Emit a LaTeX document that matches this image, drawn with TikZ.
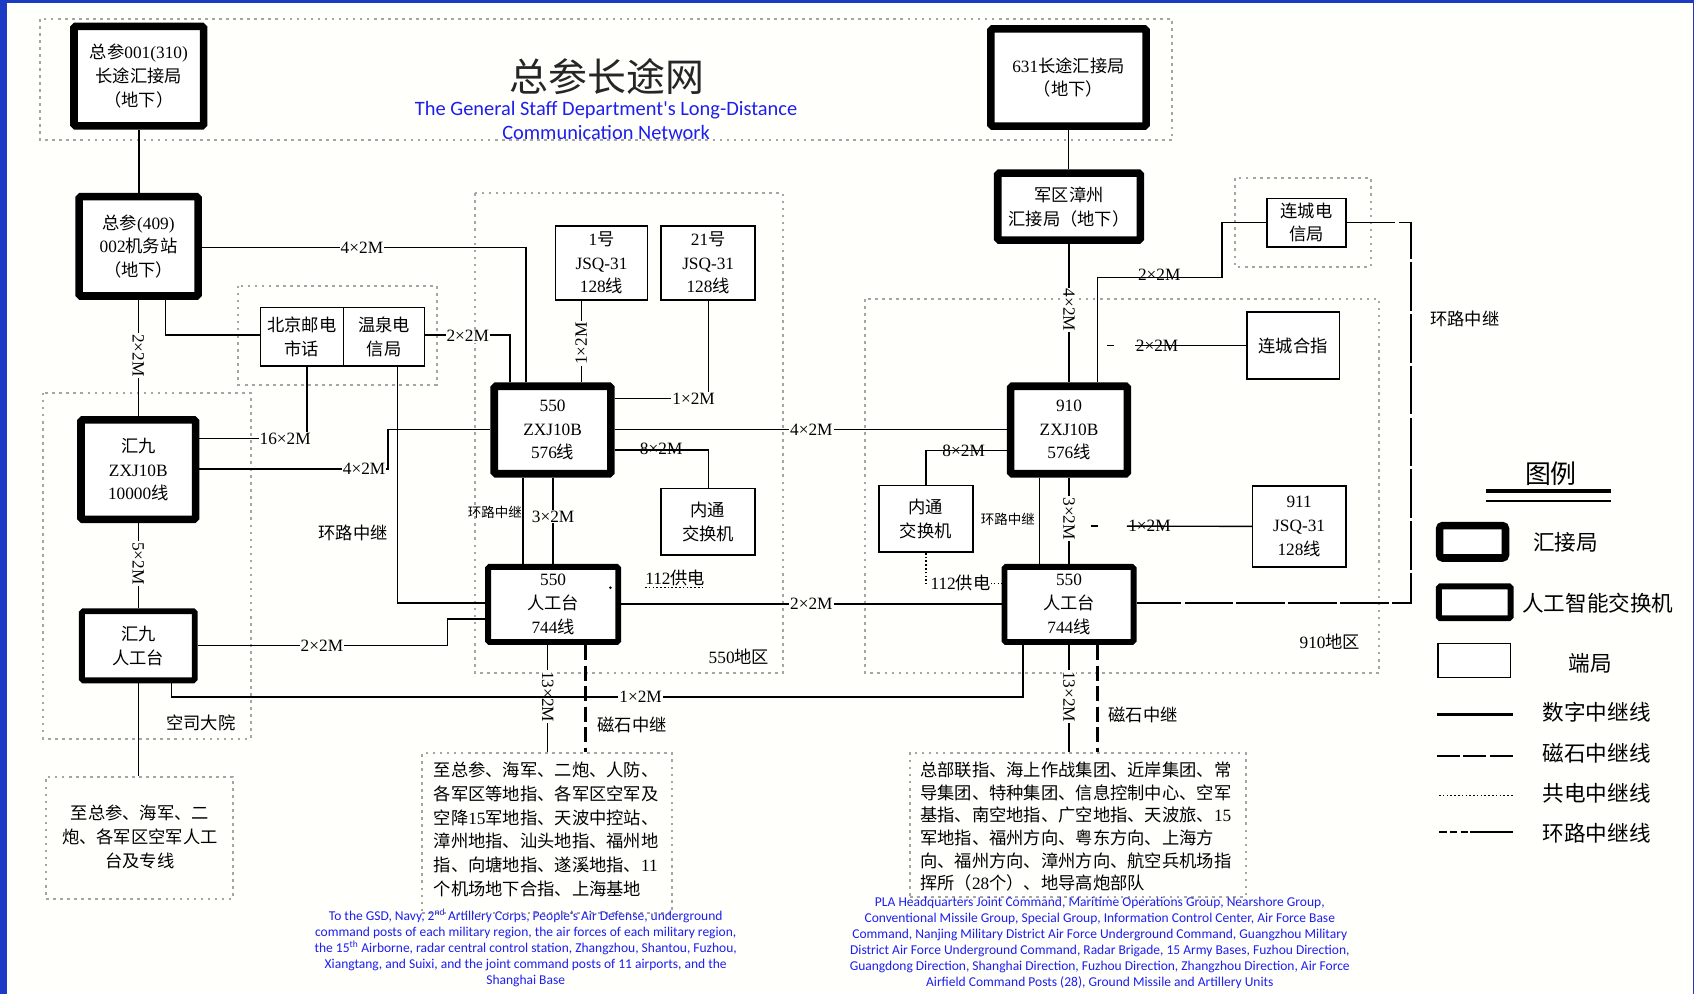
\documentclass[tikz,border=0pt]{standalone}
\usepackage{fontspec}
\setmainfont{Liberation Serif}
\newfontfamily\cjk{Noto Sans CJK SC}
\newfontfamily\enfont{Carlito}
\newcommand\zh[1]{{\cjk #1}}
\definecolor{bordblue}{RGB}{28,58,196}
\definecolor{txtblue}{RGB}{30,30,240}
\definecolor{regiongray}{RGB}{165,165,165}
\definecolor{bgcol}{RGB}{255,255,252}
\begin{document}
\begin{tikzpicture}[x=1pt,y=-1pt,
  hubbox/.style={draw, line width=7pt, rounded corners=1.5pt, fill=white, align=center, inner sep=0pt, font=\fontsize{16}{22}\selectfont},
  swbox/.style={hubbox, line width=5.5pt},
  termbox/.style={hubbox, line width=1.5pt, rounded corners=0pt},
  regionbox/.style={draw=regiongray, line width=1.8pt, dash pattern=on 2.5pt off 4pt},
  trunk/.style={line width=1.3pt},
  lbl/.style={font=\fontsize{16}{16}\selectfont, fill=bgcol, inner sep=1pt},
  lblx/.style={font=\fontsize{16}{16}\selectfont, inner sep=1pt},
  cjklbl/.style={font=\cjk\fontsize{16}{16}\selectfont, inner sep=1pt},
  smalllbl/.style={font=\cjk\fontsize{12.5}{12.5}\selectfont, inner sep=1pt},
  magline/.style={line width=2.5pt, dash pattern=on 14pt off 5pt},
  loopline/.style={line width=1.3pt, dash pattern=on 45pt off 3pt},
  pwrline/.style={line width=1.3pt, dash pattern=on 1.5pt off 2pt},
  legtext/.style={font=\cjk\fontsize{20}{20}\selectfont, inner sep=0pt},
  bluepara/.style={font=\enfont\fontsize{12.5}{14.8}\selectfont, text=txtblue, align=center, inner sep=0pt}
]
\useasboundingbox (0,0) rectangle (1568,920);
\fill[bgcol] (0,0) rectangle (1568,920);
\fill[bordblue] (0,0) rectangle (6.2,920);
\fill[bordblue] (0,0) rectangle (1568,3);
\fill[bordblue] (1566.8,3) rectangle (1568,920);

% ---------- regions ----------
\draw[regionbox] (37,17.6) rectangle (1085,129.6);
\draw[regionbox] (220.7,264.4) rectangle (404.4,356);
\draw[regionbox] (40,363.5) rectangle (232,684);
\draw[regionbox] (439.5,179) rectangle (725,622.6);
\draw[regionbox] (800.6,276.7) rectangle (1276.4,622.6);
\draw[regionbox] (1143,165) rectangle (1269,246.8);
\node[regionbox, minimum width=173pt, minimum height=113pt, inner sep=0pt] (bl) at (129.2,775.5) {};
\node[regionbox, minimum width=231pt, minimum height=148pt, inner sep=0pt] (bm) at (506.5,771) {};
\node[regionbox, minimum width=310.7pt, minimum height=133pt, inner sep=0pt] (br) at (997.6,763.6) {};

% ---------- title ----------
\node[font=\cjk\fontsize{36}{36}\selectfont, text=black!85] (title) at (562,71) {总参长途网};
\node[font=\enfont\fontsize{18.9}{22.5}\selectfont, text=txtblue, align=center, inner sep=0pt] (entitle) at (561,111.3) {The General Staff Department's Long-Distance\\Communication Network};

% ---------- boxes ----------
\node[hubbox, minimum width=120pt, minimum height=92pt] (zc001) at (128.5,70.5) {\zh{总参}001(310)\\\zh{长途汇接局}\\\zh{（地下）}};
\node[hubbox, minimum width=110pt, minimum height=92pt] (zc409) at (128.3,228) {\zh{总参}(409)\\002\zh{机务站}\\\zh{（地下）}};
\node[termbox, minimum width=77pt, minimum height=54pt] (bj1) at (279.5,311.5) {\zh{北京邮电}\\\zh{市话}};
\node[termbox, minimum width=75pt, minimum height=54pt] (wq) at (355.5,311.5) {\zh{温泉电}\\\zh{信局}};
\node[hubbox, minimum width=106pt, minimum height=92pt] (hj) at (128,434.7) {\zh{汇九}\\ZXJ10B\\10000\zh{线}};
\node[swbox, minimum width=104.5pt, minimum height=64pt] (hjr) at (128,597.8) {\zh{汇九}\\\zh{人工台}};
\node[termbox, minimum width=85.5pt, minimum height=68.7pt] (j1) at (556.75,243.35) {1\zh{号}\\JSQ-31\\128\zh{线}};
\node[termbox, minimum width=87pt, minimum height=68.7pt] (j21) at (655.5,243.35) {21\zh{号}\\JSQ-31\\128\zh{线}};
\node[hubbox, minimum width=108pt, minimum height=81pt] (z550) at (511.5,398) {550\\ZXJ10B\\576\zh{线}};
\node[termbox, minimum width=87pt, minimum height=61.7pt] (nt1) at (655.3,482.85) {\zh{内通}\\\zh{交换机}};
\node[swbox, minimum width=120.5pt, minimum height=69.5pt] (r550) at (512,559.5) {550\\\zh{人工台}\\744\zh{线}};
\node[hubbox, minimum width=143.6pt, minimum height=90pt] (t631) at (989,71.7) {631\zh{长途汇接局}\\\zh{（地下）}};
\node[hubbox, minimum width=132pt, minimum height=62pt] (zz) at (989.5,191.3) {\zh{军区漳州}\\\zh{汇接局（地下）}};
\node[termbox, minimum width=72.8pt, minimum height=44.7pt] (lcd) at (1209.4,206) {\zh{连城电}\\\zh{信局}};
\node[termbox, minimum width=86pt, minimum height=62pt] (lch) at (1197,320) {\zh{连城合指}};
\node[hubbox, minimum width=108pt, minimum height=81pt] (z910) at (989.5,398) {910\\ZXJ10B\\576\zh{线}};
\node[termbox, minimum width=86.7pt, minimum height=61.5pt] (nt2) at (857,480.3) {\zh{内通}\\\zh{交换机}};
\node[termbox, minimum width=86.2pt, minimum height=74.7pt] (j911) at (1202.5,487.2) {911\\JSQ-31\\128\zh{线}};
\node[swbox, minimum width=119.5pt, minimum height=69.5pt] (r550b) at (989.5,559.5) {550\\\zh{人工台}\\744\zh{线}};

% ---------- connectors ----------
\draw[trunk] (zc001.south) -- (zc001.south |- zc409.north);
\draw[trunk] (zc409.east |- 0,229) -- (487,229) -- (487,0 |- z550.north);
\draw[trunk] (zc409.south) -- (zc409.south |- hj.north);
\draw[trunk] (153,0 |- zc409.south) -- (153,310) -- (bj1.west |- 0,310);
\draw[trunk] (wq.east |- 0,310) -- (472,310) -- (472,0 |- z550.north);
\draw[trunk] (284,0 |- bj1.south) -- (284,406) -- (hj.east |- 0,406);
\draw[trunk] (368,0 |- wq.south) -- (368,558) -- (r550.west |- 0,558);
\draw[trunk] (hj.east |- 0,434) -- (359,434) -- (359,397.5) -- (z550.west |- 0,397.5);
\draw[trunk] (hj.south) -- (hj.south |- hjr.north);
\draw[trunk] (hjr.east |- 0,597.5) -- (414,597.5) -- (414,573) -- (r550.west |- 0,573);
\draw[trunk] (hjr.south) -- (hjr.south |- bl.north);
% 550 area
\draw[trunk] (z550.east |- 0,369) -- (656,369) -- (656,0 |- j21.south);
\draw[trunk] (538,0 |- j1.south) -- (538,0 |- z550.north);
\draw[trunk] (z550.east |- 0,397.5) -- (z910.west |- 0,397.5);
\draw[trunk] (z550.east |- 0,416.5) -- (656,416.5) -- (656,0 |- nt1.north);
\draw[trunk] (484,0 |- z550.south) -- (484,0 |- r550.north);
\draw[trunk] (512,0 |- z550.south) -- (512,0 |- r550.north);
\draw[trunk] (r550.east |- 0,559) -- (r550b.west |- 0,559);
\draw[trunk] (507,0 |- r550.south) -- (507,0 |- bm.north);
\draw[magline] (542,0 |- r550.south) -- (542,0 |- bm.north);
\fill (565,544) circle (1.3pt);
\draw[pwrline] (597,544) -- (652,544);
% 910 area
\draw[trunk] (t631.south) -- (t631.south |- zz.north);
\draw[trunk] (zz.south) -- (zz.south |- z910.north);
\draw[trunk] (1016,0 |- z910.north) -- (1016,257) -- (1131,257) -- (1131,206) -- (lcd.west |- 0,206);
\draw[loopline] (lcd.east |- 0,206) -- (1306,206) -- (1306,558) -- (r550b.east |- 0,558);
\draw[trunk] (lch.west) -- (1051,320);
\draw[trunk] (1025,320) -- (1031,320);
\draw[trunk] (j911.west) -- (1043,487);
\draw[trunk] (1010,487) -- (1016,487);
\draw[trunk] (z910.west |- 0,417) -- (857,417) -- (857,0 |- nt2.north);
\draw[pwrline] (857,0 |- nt2.south) -- (857,540) -- (r550b.west |- 0,540);
\draw[trunk] (962,0 |- z910.south) -- (962,0 |- r550b.north);
\draw[trunk] (989.5,0 |- z910.south) -- (989.5,0 |- r550b.north);
\draw[trunk] (989.5,0 |- r550b.south) -- (989.5,0 |- br.north);
\draw[magline] (1016,0 |- r550b.south) -- (1016,0 |- br.north);

% ---------- labels ----------
\node[lbl] (l4a) at (335,229) {4×2M};
\node[lbl, rotate=-90] (l2a) at (128,329) {2×2M};
\node[lbl] (l2b) at (433,311) {2×2M};
\node[lbl] (l16) at (264,406) {16×2M};
\node[lbl] (l4b) at (337,434) {4×2M};
\node[lbl, rotate=-90] (l5) at (128,521.5) {5×2M};
\node[lbl] (l2c) at (298,597.5) {2×2M};
\node[lbl] (l1b) at (642,369) {1×2M};
\node[lbl, rotate=90] (l1c) at (538,318) {1×2M};
\node[lbl] (l4c) at (751,398) {4×2M};
\node[lblx] (l8a) at (612,415) {8×2M};
\node[smalllbl] (lloop1) at (458,474) {环路中继};
\node[lbl] (l3a) at (512,478) {3×2M};
\node[lbl] (l2d) at (751,559) {2×2M};
\node[lbl, rotate=-90] (l13a) at (507,645) {13×2M};
\node[cjklbl] (lmag1) at (585,671) {磁石中继};
\node[lblx] (l112a) at (625,535) {112\zh{供电}};
\node[cjklbl] (lloop2) at (327,493) {环路中继};
\node[cjklbl] (lksdy) at (186,669) {空司大院};
\node[lblx] (l550) at (684,608) {550\zh{地区}};
\node[lbl, rotate=-90] (l4d) at (989.5,287) {4×2M};
\node[lblx] (l2e) at (1073,254) {2×2M};
\node[lblx] (l2f) at (1071,320) {2×2M};
\node[cjklbl] (lloop3) at (1356,295) {环路中继};
\node[lblx] (l8b) at (892,417) {8×2M};
\node[lbl] (l112b) at (889,540) {112\zh{供电}};
\node[smalllbl] (lloop4) at (933,481) {环路中继};
\node[lbl, rotate=-90] (l3b) at (989.5,480) {3×2M};
\node[lblx] (l1d) at (1064,487) {1×2M};
\node[lbl, rotate=-90] (l13b) at (989.5,645) {13×2M};
\node[cjklbl] (lmag2) at (1058,662) {磁石中继};
\node[lblx] (l910) at (1231,594) {910\zh{地区}};

% long 1x2M line drawn above labels
\draw[trunk] (159,0 |- hjr.south) -- (159,645) -- (947,645) -- (947,0 |- r550b.south);
\node[lbl] (l1a) at (593,645) {1×2M};

% ---------- text blocks ----------
\node[font=\cjk\fontsize{16}{22.2}\selectfont, align=center, inner sep=0pt] (bltext) at (129.5,774.5) {至总参、海军、二\\炮、各军区空军人工\\台及专线};
\node[font=\fontsize{16}{22}\selectfont, align=left, inner sep=0pt, anchor=north west] (bmtext) at (401.3,705) {\zh{至总参、海军、二炮、人防、}\\\zh{各军区等地指、各军区空军及}\\\zh{空降}15\zh{军地指、天波中控站、}\\\zh{漳州地指、汕头地指、福州地}\\\zh{指、向塘地指、遂溪地指、}11\\\zh{个机场地下合指、上海基地}};
\node[font=\fontsize{16}{21}\selectfont, align=left, inner sep=0pt, anchor=north west] (brtext) at (851.5,705) {\zh{总部联指、海上作战集团、近岸集团、常}\\\zh{导集团、特种集团、信息控制中心、空军}\\\zh{基指、南空地指、广空地指、天波旅、}15\\\zh{军地指、福州方向、粤东方向、上海方}\\\zh{向、福州方向、漳州方向、航空兵机场指}\\\zh{挥所（}28\zh{个）、地导高炮部队}};

\node[bluepara] (enL) at (486.6,877.4) {To the GSD, Navy, 2\textsuperscript{nd} Artillery Corps, People’s Air Defense, underground\\command posts of each military region, the air forces of each military region,\\the 15\textsuperscript{th} Airborne, radar central control station, Zhangzhou, Shantou, Fuzhou,\\Xiangtang, and Suixi, and the joint command posts of 11 airports, and the\\Shanghai Base};
\node[bluepara] (enR) at (1018,873) {PLA Headquarters Joint Command, Maritime Operations Group, Nearshore Group,\\Conventional Missile Group, Special Group, Information Control Center, Air Force Base\\Command, Nanjing Military District Air Force Underground Command, Guangzhou Military\\District Air Force Underground Command, Radar Brigade, 15 Army Bases, Fuzhou Direction,\\Guangdong Direction, Shanghai Direction, Fuzhou Direction, Zhangzhou Direction, Air Force\\Airfield Command Posts (28), Ground Missile and Artillery Units};

% ---------- legend ----------
\node[font=\cjk\fontsize{24}{24}\selectfont] (lgtitle) at (1435.6,438) {图例};
\draw[line width=4.5pt] (1375,454.5) -- (1491,454.5);
\draw[line width=1.5pt] (1375,464) -- (1491,464);
\node[hubbox, line width=7pt, rounded corners=3pt, minimum width=61pt, minimum height=30pt] (lgA) at (1363,501.5) {};
\node[swbox, minimum width=66.5pt, minimum height=29.5pt] (lgB) at (1365,557.5) {};
\node[termbox, minimum width=67.5pt, minimum height=31.5pt] (lgC) at (1364.5,611.5) {};
\draw[line width=3pt] (1330,661) -- (1400,661);
\draw[line width=1.6pt, dash pattern=on 21pt off 3.5pt] (1330,699.6) -- (1400,699.6);
\draw[line width=1.2pt, dash pattern=on 1.5pt off 2pt] (1332,736) -- (1402,736);
\draw[line width=1.6pt, dash pattern=on 7pt off 3pt on 7pt off 3pt on 7pt off 2pt on 45pt off 0pt] (1332,770) -- (1400,770);
\node[legtext] (lgtA) at (1449,502) {汇接局};
\node[legtext] (lgtB) at (1479,558) {人工智能交换机};
\node[legtext] (lgtC) at (1472,614) {端局};
\node[legtext] (lgtD) at (1478,659) {数字中继线};
\node[legtext] (lgtE) at (1478,697) {磁石中继线};
\node[legtext] (lgtF) at (1478,734) {共电中继线};
\node[legtext] (lgtG) at (1478,771) {环路中继线};
\end{tikzpicture}
\end{document}
